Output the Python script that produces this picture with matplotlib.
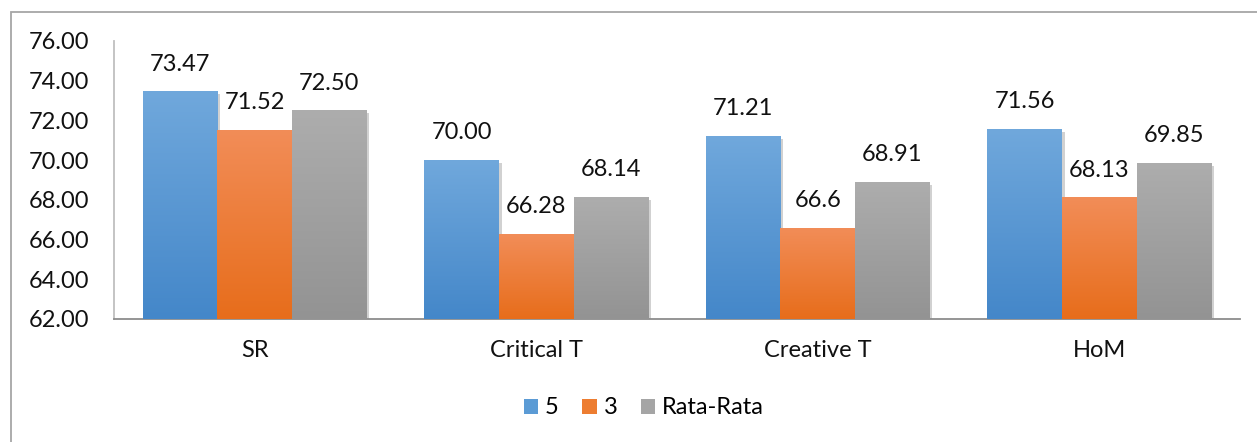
import numpy as np
import matplotlib
matplotlib.use("Agg")
import matplotlib.pyplot as plt
from matplotlib.patches import Rectangle, Patch
from matplotlib.colors import LinearSegmentedColormap
import matplotlib.patheffects as pe

categories = ["SR", "Critical T", "Creative T", "HoM"]
series_names = ["5", "3", "Rata-Rata"]
vals_5 = [73.47, 70.00, 71.21, 71.56]
vals_3 = [71.52, 66.28, 66.6, 68.13]
vals_avg = [72.50, 68.14, 68.91, 69.85]
labels_5 = ["73.47", "70.00", "71.21", "71.56"]
labels_3 = ["71.52", "66.28", "66.6", "68.13"]
labels_avg = ["72.50", "68.14", "68.91", "69.85"]
yticks = [62, 64, 66, 68, 70, 72, 74, 76]

series = [vals_5, vals_3, vals_avg]
series_labels = [labels_5, labels_3, labels_avg]
top_colors = ["#70a8dc", "#f28d58", "#adadad"]
bot_colors = ["#4487c9", "#e76d1b", "#939393"]
leg_colors = ["#5b9bd5", "#ed7d31", "#a5a5a5"]

FS = 17
plt.rcParams["font.family"] = ["Lato", "DejaVu Sans"]
W, H = 1257, 442
fig = plt.figure(figsize=(W / 100, H / 100), dpi=100)
ax = fig.add_axes([114 / W, 1 - 319 / H, (1240 - 114) / W, (319 - 41) / H])

# outer frame (chart area border, partially cut off)
fig.add_artist(Rectangle((11 / W, -0.1), 1.2, 1 - 12 / H + 0.1, transform=fig.transFigure,
                         fill=False, edgecolor="#a6a6a6", linewidth=1.3))

x = np.arange(len(categories))
bw = 0.265
offsets = [-bw, 0, bw]
for s, vals in enumerate(series):
    cmap = LinearSegmentedColormap.from_list("g%d" % s, [bot_colors[s], top_colors[s]])
    bars = ax.bar(x + offsets[s], [v - 62 for v in vals], bw, bottom=62,
                  color=leg_colors[s], zorder=2,
                  path_effects=[pe.SimplePatchShadow(offset=(2, -2), shadow_rgbFace="#000000", alpha=0.18),
                                pe.Normal()])
    for b, v, lab in zip(bars, vals, series_labels[s]):
        x0 = b.get_x()
        grad = np.linspace(0, 1, 256).reshape(-1, 1)
        im = ax.imshow(grad, cmap=cmap, origin="lower", aspect="auto",
                       extent=[x0, x0 + bw, 62, v], zorder=3, interpolation="bilinear")
        im.set_clip_path(b)
        ax.annotate(lab, (x0 + bw / 2, v), xytext=(0, 12), textcoords="offset points",
                    ha="center", va="bottom", fontsize=FS, color="#111111", zorder=4)

ax.set_xlim(-0.5, len(categories) - 0.5)
ax.set_ylim(62, 76)
ax.set_yticks(yticks)
ax.set_yticklabels(["%.2f" % t for t in yticks], fontsize=FS, color="#111111")
ax.set_xticks(x)
ax.set_xticklabels(categories, fontsize=FS, color="#111111")
ax.tick_params(axis="both", length=0)
ax.tick_params(axis="y", pad=18)
ax.tick_params(axis="x", pad=15)
for sp in ["top", "right"]:
    ax.spines[sp].set_visible(False)
ax.spines["left"].set_color("#bfbfbf")
ax.spines["left"].set_linewidth(1.3)
ax.spines["bottom"].set_color("#8c8c8c")
ax.spines["bottom"].set_linewidth(1.3)

handles = [Patch(facecolor=leg_colors[i], edgecolor="none") for i in range(3)]
fig.legend(handles, series_names, loc="center", bbox_to_anchor=(644 / W, 1 - 408 / H), ncol=3,
           frameon=False, fontsize=FS, handlelength=0.6, handleheight=0.6,
           handletextpad=0.3, columnspacing=1.0)

fig.savefig("out.png", dpi=100)
